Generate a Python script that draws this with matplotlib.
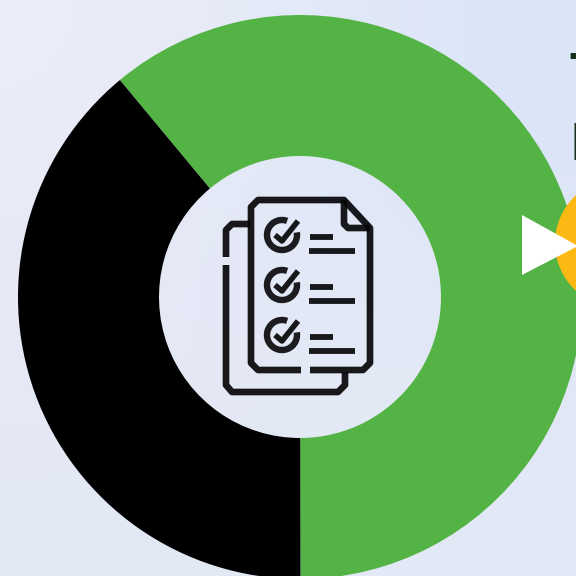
import numpy as np
import matplotlib
matplotlib.use("Agg")
import matplotlib.pyplot as plt
from matplotlib.colors import to_rgb
from matplotlib.patches import Circle, Polygon, Arc

# donut values, clockwise from the upper-left boundary
SHARES = [61, 39]
COLORS = ["#54b345", "#000000"]
START_ANGLE = 129.7

# backdrop colours, rows from top to bottom, left to right
BG_GRID = [
    ["#ebedf8", "#e4eaf8", "#dbe5f8"],
    ["#e8eaf7", "#e2e8f7", "#dde6f8"],
    ["#e7e9f5", "#e4e9f6", "#e4e8f6"],
    ["#e3e8f5", "#e3e8f5", "#e2e8f5"],
]

CHECK_Y = [235, 285, 335]

W = H = 576
INK = "#060608"


def fy(y):
    # picture rows count from the top
    return H - y


fig = plt.figure(figsize=(W / 100, H / 100), dpi=100)
ax = fig.add_axes([0, 0, 1, 1])

bg = np.array([[to_rgb(c) for c in row] for row in BG_GRID])
ax.imshow(bg, interpolation="bicubic", aspect="auto",
          extent=(0, W, 0, H), zorder=0)

ax.pie(SHARES, colors=COLORS, startangle=START_ANGLE, counterclock=False,
       center=(300, fy(297)), radius=282,
       wedgeprops={"width": 141, "linewidth": 0}, frame=True)
ax.set_xlim(0, W)
ax.set_ylim(0, H)
ax.set_aspect("equal")
ax.axis("off")

# badge and arrow running off the right edge
ax.add_patch(Circle((620, fy(243)), 65, color="#fdb913", zorder=3, lw=0))
ax.add_patch(Polygon([(522, fy(215)), (522, fy(275)), (578, fy(246))],
                     color="white", zorder=4, lw=0))

# cut-off text at the edge
ax.text(569, fy(90), "T", fontsize=38, color="#14301a", va="baseline", ha="left",
        family="Liberation Sans", weight="bold", zorder=3)
ax.text(571, fy(160), "D", fontsize=38, color="#14301a", va="baseline", ha="left",
        family="Liberation Sans", weight="bold", zorder=3)


def stroke(xs, ys, lw=4.8):
    ax.plot(xs, [fy(y) for y in ys], color=INK, lw=lw, solid_capstyle="butt",
            solid_joinstyle="round", zorder=5, alpha=0.92)


# front page
stroke([301, 258, 251, 251, 258, 344, 370, 370, 363, 310],
       [370, 370, 363, 207, 200, 200, 228, 363, 370, 370])
stroke([344, 344, 348, 370], [200, 224, 228, 228])
# back page
stroke([250, 232, 226, 226], [224, 224, 230, 257])
stroke([226, 226, 232, 338, 345, 345], [265, 385, 392, 392, 385, 372])

for y in CHECK_Y:
    ax.add_patch(Arc((282, fy(y)), 30, 30, theta1=70, theta2=370, color=INK,
                     lw=4.6, zorder=5, alpha=0.9))
    stroke([275, 282, 298], [y, y + 6, y - 14], lw=4)
    stroke([310, 333], [y + 2, y + 2], lw=4.2)
    stroke([309, 355], [y + 16, y + 16], lw=4.2)

fig.savefig("out.png", dpi=100)
